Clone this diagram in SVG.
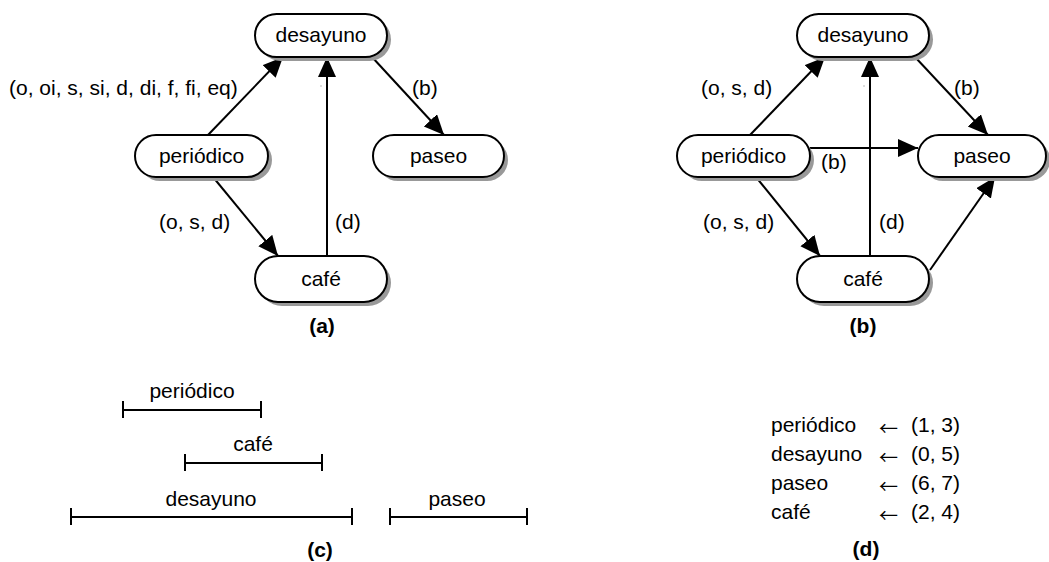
<svg xmlns="http://www.w3.org/2000/svg" width="1049" height="562" viewBox="0 0 1049 562">
<style>
text{font-family:"Liberation Sans",Arial,sans-serif;font-size:21px;fill:#000}
.c{text-anchor:middle}
.b{font-weight:bold}
.ar{font-family:"Noto Sans CJK JP","DejaVu Sans",sans-serif;font-size:19px}
.node{fill:#fff;stroke:#000;stroke-width:2}
.sh{fill:#999;stroke:none}
.e{stroke:#000;stroke-width:2;fill:none;marker-end:url(#ah)}
.bar{stroke:#000;stroke-width:2;fill:none}
</style>
<defs>
<marker id="ah" markerUnits="userSpaceOnUse" markerWidth="22" markerHeight="20" refX="20" refY="9" orient="auto">
<path d="M0,0 L20,9 L0,18 Z" fill="#000"/>
</marker>
</defs>
<rect width="1049" height="562" fill="#fff"/>
<g id="connectors">
<path class="e" d="M208,135 L283,57"/>
<path class="e" d="M213,177 L278,256"/>
<path class="e" d="M327,256 L327,57"/>
<path class="e" d="M372,57 L444,135"/>
<path class="e" d="M750,135 L825,57"/>
<path class="e" d="M756,177 L820,256"/>
<path class="e" d="M870,256 L870,57"/>
<path class="e" d="M915,57 L988,135"/>
<path class="e" d="M810,148 L918,148"/>
<path class="e" d="M930,270 L995,177"/>
</g>
<g id="a-desayuno"><rect class="sh" x="259" y="18" width="132" height="43" rx="21.5"/><rect class="node" x="255" y="14" width="132" height="43" rx="21.5"/><text class="c" x="321" y="42">desayuno</text></g>
<g id="a-periodico"><rect class="sh" x="139" y="139" width="133" height="42" rx="21"/><rect class="node" x="135" y="135" width="133" height="42" rx="21"/><text class="c" x="201.5" y="163">periódico</text></g>
<g id="a-paseo"><rect class="sh" x="377" y="139" width="131" height="42" rx="21"/><rect class="node" x="373" y="135" width="131" height="42" rx="21"/><text class="c" x="438.5" y="163">paseo</text></g>
<g id="a-cafe"><rect class="sh" x="259" y="260" width="132" height="46" rx="23"/><rect class="node" x="255" y="256" width="132" height="46" rx="23"/><text class="c" x="321" y="286">café</text></g>
<g id="b-desayuno"><rect class="sh" x="801" y="18" width="132" height="43" rx="21.5"/><rect class="node" x="797" y="14" width="132" height="43" rx="21.5"/><text class="c" x="863" y="42">desayuno</text></g>
<g id="b-periodico"><rect class="sh" x="681" y="139" width="133" height="42" rx="21"/><rect class="node" x="677" y="135" width="133" height="42" rx="21"/><text class="c" x="743.5" y="163">periódico</text></g>
<g id="b-paseo"><rect class="sh" x="922" y="139" width="128" height="42" rx="21"/><rect class="node" x="918" y="135" width="128" height="42" rx="21"/><text class="c" x="982" y="163">paseo</text></g>
<g id="b-cafe"><rect class="sh" x="801" y="260" width="132" height="46" rx="23"/><rect class="node" x="797" y="256" width="132" height="46" rx="23"/><text class="c" x="863" y="286">café</text></g>
<g id="labels">
<text x="9" y="95">(o, oi, s, si, d, di, f, fi, eq)</text>
<text x="412" y="95">(b)</text>
<text x="159" y="229">(o, s, d)</text>
<text x="335" y="229">(d)</text>
<rect x="320.5" y="85.5" width="1" height="1" fill="#777"/>
<text class="c b" x="322" y="333">(a)</text>
<text x="701" y="95">(o, s, d)</text>
<text x="954" y="95">(b)</text>
<text x="821" y="169">(b)</text>
<text x="703" y="229">(o, s, d)</text>
<text x="879" y="229">(d)</text>
<rect x="863.5" y="85.5" width="1" height="1" fill="#777"/>
<text class="c b" x="863" y="333">(b)</text>
</g>
<g id="timeline">
<path class="bar" d="M123,410 H261 M123,401 V418 M261,401 V418"/>
<text class="c" x="192" y="398">periódico</text>
<path class="bar" d="M185,463 H322 M185,454 V471 M322,454 V471"/>
<text class="c" x="253" y="451">café</text>
<path class="bar" d="M71,517 H352 M71,508 V525 M352,508 V525"/>
<text class="c" x="211" y="506">desayuno</text>
<path class="bar" d="M390,517 H527 M390,508 V525 M527,508 V525"/>
<text class="c" x="457" y="506">paseo</text>
<text class="c b" x="320" y="557">(c)</text>
</g>
<g id="assignments">
<text x="771" y="432">periódico</text><text class="ar" x="879" y="436">←</text><text x="911" y="432">(1, 3)</text>
<text x="771" y="461">desayuno</text><text class="ar" x="879" y="465">←</text><text x="911" y="461">(0, 5)</text>
<text x="771" y="490">paseo</text><text class="ar" x="879" y="494">←</text><text x="911" y="490">(6, 7)</text>
<text x="771" y="519">café</text><text class="ar" x="879" y="523">←</text><text x="911" y="519">(2, 4)</text>
<text class="c b" x="866" y="556">(d)</text>
</g>
</svg>
